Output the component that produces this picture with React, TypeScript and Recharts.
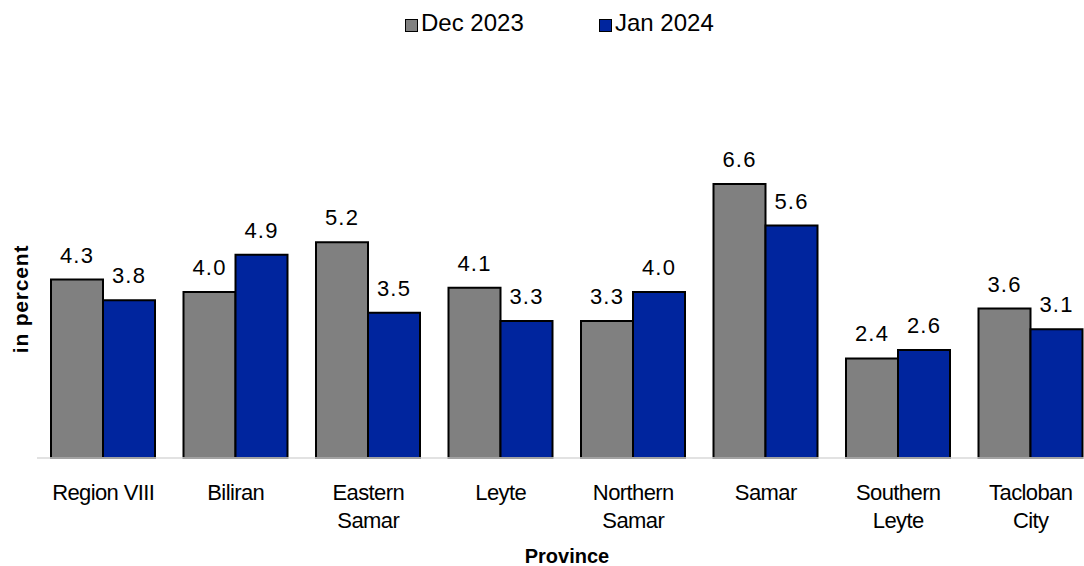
import React from 'react';
import { BarChart, Bar, XAxis, YAxis, Legend, LabelList, Label } from 'recharts';

const categories = ['Region VIII', 'Biliran', 'Eastern\nSamar', 'Leyte', 'Northern\nSamar', 'Samar', 'Southern\nLeyte', 'Tacloban\nCity'];
const dec2023 = [4.3, 4.0, 5.2, 4.1, 3.3, 6.6, 2.4, 3.6];
const jan2024 = [3.8, 4.9, 3.5, 3.3, 4.0, 5.6, 2.6, 3.1];
const seriesNames = ['Dec 2023', 'Jan 2024'];
const yDomain = [0, 8];

const GRAY = '#808080';
const BLUE = '#00259E';
const FONT = '"Liberation Sans", Arial, sans-serif';

const data = categories.map((c, i) => ({ name: c, dec: dec2023[i], jan: jan2024[i] }));

const CategoryTick = (props: any) => {
  const { x, y, payload } = props;
  const lines = String(payload.value).split('\n');
  return (
    <text x={x} y={y} textAnchor="middle" fill="#000" fontSize={22} fontFamily={FONT} letterSpacing={-0.6}>
      {lines.map((l: string, i: number) => (
        <tspan key={i} x={x} dy={i === 0 ? 42 : 28}>{l}</tspan>
      ))}
    </text>
  );
};

const LegendContent = (props: any) => {
  const items = props.payload || [];
  const lefts = [405, 599];
  return (
    <div style={{ position: 'relative', height: 0, width: 0 }}>
      {items.map((it: any, i: number) => (
        <div key={i} style={{ position: 'absolute', left: lefts[i], top: 9, display: 'flex', alignItems: 'center', whiteSpace: 'nowrap', fontFamily: FONT, fontSize: 24, lineHeight: '28px', color: '#000' }}>
          <span style={{ display: 'inline-block', width: 11, height: 11, background: it.color, border: '1.5px solid #000', marginRight: 3, marginTop: 5 }} />
          <span>{it.value}</span>
        </div>
      ))}
    </div>
  );
};

const YLabel = (props: any) => {
  const vb = props.viewBox || { x: 0, y: 0, width: 0, height: 0 };
  const cx = vb.x + 27.5;
  const cy = vb.y + vb.height / 2 + 7;
  return (
    <text x={cx} y={cy} transform={`rotate(-90 ${cx} ${cy})`} textAnchor="middle" fontFamily={FONT} fontWeight="bold" fontSize={21} letterSpacing={0.8} fill="#000">
      in percent
    </text>
  );
};

export default function App() {
  return (
    <div style={{ position: 'absolute', left: 0, top: 0, width: 1084, height: 566, overflow: 'hidden', background: '#fff' }}>
      <BarChart width={1100} height={566} data={data} margin={{ top: 126, right: 3, left: 0, bottom: 0 }} barCategoryGap={14} barGap={0}>
        <XAxis dataKey="name" height={108} tickLine={false} tickSize={0} tickMargin={0} interval={0} axisLine={{ stroke: '#d9d9d9', strokeWidth: 1.5 }} tick={<CategoryTick />}>
          <Label value="Province" position="insideBottom" offset={3} fontFamily={FONT} fontWeight="bold" fontSize={20} fill="#000" />
        </XAxis>
        <YAxis width={37} domain={yDomain} axisLine={false} tickLine={false} tick={false} label={<YLabel />} />
        <Legend verticalAlign="top" align="left" content={<LegendContent />} wrapperStyle={{ top: 0, left: 0 }} />
        <Bar dataKey="dec" name={seriesNames[0]} fill={GRAY} stroke="#000" strokeWidth={2} isAnimationActive={false}>
          <LabelList dataKey="dec" position="top" offset={17} formatter={(v: any) => Number(v).toFixed(1)} fill="#000" fontSize={22} fontFamily={FONT} letterSpacing={1.2} />
        </Bar>
        <Bar dataKey="jan" name={seriesNames[1]} fill={BLUE} stroke="#000" strokeWidth={2} isAnimationActive={false}>
          <LabelList dataKey="jan" position="top" offset={17} formatter={(v: any) => Number(v).toFixed(1)} fill="#000" fontSize={22} fontFamily={FONT} letterSpacing={1.2} />
        </Bar>
      </BarChart>
    </div>
  );
}
